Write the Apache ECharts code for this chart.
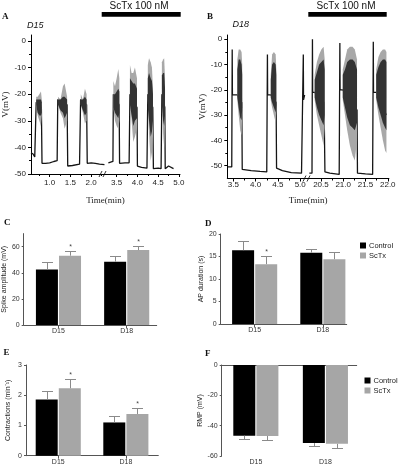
<!DOCTYPE html>
<html>
<head>
<meta charset="utf-8">
<script src="https://cdn.jsdelivr.net/npm/echarts@6/dist/echarts.min.js"></script>
<style>
html, body { margin: 0; padding: 0; background: #fff; }
#main { width: 407px; height: 466px; }
</style>
</head>
<body>
<div id="main"></div>
<script>
// ---------- A: D15 recording (time in min, V in mV) ----------
var traceA1 = [
	[0.55, -42], [0.60, -42.5], [0.64, -43.6], [0.67, -44], [0.675, -23], [0.80, -25], [0.815, -46],
	[0.90, -46], [1.00, -45.8], [1.10, -45.3], [1.18, -45], [1.195, -22], [1.42, -24], [1.435, -47],
	[1.55, -46.8], [1.72, -46.3], [1.745, -22], [1.89, -24], [1.905, -46], [2.00, -45.8], [2.10, -46],
	[2.20, -46.3], [2.32, -46.5]
];
var traceA2 = [
	[3.30, -45.8], [3.41, -45.3], [3.42, -20], [3.56, -24], [3.57, -46], [3.70, -45.8], [3.80, -45.8],
	[3.82, -20], [3.99, -25], [4.00, -47], [4.10, -47.5], [4.23, -47.8], [4.25, -20], [4.37, -25],
	[4.385, -48], [4.50, -47.8], [4.57, -48], [4.59, -20], [4.66, -25], [4.67, -48], [4.75, -47], [4.87, -48]
];
// bursts: [t, top, bottom, coreTop, coreBottom]
var burstsA = [
	[[0.675, -21, -24, -22, -24], [0.71, -21, -28, -22, -27], [0.75, -20, -30, -22, -28], [0.79, -19, -32, -22, -28], [0.81, -22, -28, -23, -27]],
	[[1.20, -21, -24, -22, -24], [1.26, -22, -27, -22, -26], [1.32, -17, -29, -21, -27], [1.36, -16, -33, -21, -29], [1.42, -21, -30, -22, -27]],
	[[1.75, -20, -24, -22, -24], [1.80, -22, -27, -22, -26], [1.85, -18, -31, -21, -28], [1.89, -20, -30, -22, -27]],
	[[3.42, -15, -25, -20, -25], [3.46, -17, -30, -20, -27], [3.50, -14, -32, -19, -28], [3.54, -10.5, -33, -18, -29], [3.565, -14, -30, -19, -27]],
	[[3.82, -9, -22, -14, -24], [3.86, -12, -30, -15, -28], [3.90, -12, -38, -16, -32], [3.94, -10, -36, -16, -30], [3.99, -14, -33, -18, -29]],
	[[4.25, -9, -22, -14, -25], [4.28, -6.5, -35, -12, -30], [4.32, -8, -45, -14, -36], [4.35, -10, -42, -15, -34], [4.375, -18, -36, -20, -30]],
	[[4.59, -8, -20, -13, -24], [4.62, -7, -35, -12, -30], [4.645, -6.5, -40, -12, -32], [4.665, -14, -30, -18, -28]]
];
var ticksA = [1.0, 1.5, 2.0, 3.5, 4.0, 4.5, 5.0];
var minorTicksA = [0.75, 1.25, 1.75, 2.25, 3.75, 4.25, 4.75];

// ---------- B: D18 recording ----------
var traceB1 = [
	[3.38, -50.5], [3.465, -50.5], [3.475, -4], [3.48, -22], [3.59, -22], [3.69, -25], [3.70, -51.5],
	[3.90, -52], [4.10, -52.3], [4.25, -52.5], [4.265, -6], [4.27, -22], [4.34, -22], [4.46, -25],
	[4.47, -51], [4.60, -52], [4.80, -52.8], [5.03, -53], [5.06, -53], [5.07, -6], [5.075, -24], [5.10, -22]
];
var traceB2 = [
	[20.24, -53], [20.30, -53], [20.31, 0], [20.315, -21], [20.36, -21], [20.57, -25], [20.59, -52.5],
	[20.70, -53], [20.91, -53.5], [20.925, -1.5], [20.93, -20], [20.99, -20], [21.31, -28], [21.32, -53],
	[21.50, -53.3], [21.66, -53.5], [21.675, -1], [21.68, -21], [21.74, -21], [21.97, -30]
];
var burstsB = [
	[[3.59, -8, -24, -12, -23], [3.62, -4, -30, -8, -27], [3.655, -4, -36, -8, -31], [3.685, -5, -38, -10, -32], [3.70, -10, -30, -14, -27]],
	[[4.34, -14, -24, -16, -23], [4.37, -6, -27, -10, -25], [4.41, -5, -30, -9, -27], [4.45, -6, -33, -10, -29], [4.465, -12, -28, -14, -26]],
	[[20.36, -14, -24, -16, -23], [20.41, -9, -30, -13, -27], [20.46, -6, -34, -10, -30], [20.51, -4, -38, -9, -32], [20.56, -3, -42, -8, -34], [20.585, -8, -35, -12, -30]],
	[[20.99, -12, -24, -14, -23], [21.04, -8, -30, -12, -27], [21.09, -4, -36, -9, -31], [21.15, -3, -42, -8, -34], [21.21, -3, -46, -8, -35], [21.26, -4, -48, -9, -36], [21.31, -8, -40, -12, -33]],
	[[21.74, -12, -24, -14, -23], [21.79, -7, -30, -11, -27], [21.84, -5, -35, -9, -30], [21.89, -4, -40, -8, -33], [21.94, -4, -44, -8, -35], [21.97, -5, -45, -9, -36]]
];
var ticksB = [3.5, 4.0, 4.5, 5.0, 20.5, 21.0, 21.5, 22.0];
var minorTicksB = [3.75, 4.25, 4.75, 20.75, 21.25, 21.75];
var vTicks = [-50, -40, -30, -20, -10, 0];
var vMinorTicks = [-45, -35, -25, -15, -5];

// ---------- C-F: group means (Control / ScTx) and ends of error bars ----------
var groups = ['D15', 'D18'];
var spikeCtrl = [42.6, 48.5], spikeCtrlErr = [48.0, 53.1];
var spikeScTx = [53.1, 57.4], spikeScTxErr = [56.9, 60.5], spikeStar = [1, 1];
var apCtrl = [16.4, 15.85], apCtrlErr = [18.5, 16.7];
var apScTx = [13.3, 14.4], apScTxErr = [15.2, 15.9], apStar = [1, 0];
var conCtrl = [1.86, 1.10], conCtrlErr = [2.14, 1.31];
var conScTx = [2.23, 1.38], conScTxErr = [2.53, 1.57], conStar = [1, 1];
var rmpCtrl = [-46.6, -51.5], rmpCtrlErr = [-48.7, -53.5];
var rmpScTx = [-46.8, -52.0], rmpScTxErr = [-49.4, -54.4], rmpStar = [0, 0];

// axis breaks: time after the break is shifted left
function mapA(t) { return t > 3 ? t - 0.886 : t; }
function mapB(t) { return t > 10 ? t - 15.035 : t; }

var SANS = 'Liberation Sans, Arial, sans-serif';
var SERIF = 'Liberation Serif, Times New Roman, serif';
var BAR_W = 22, OFF = 11.5;

var chart = echarts.init(document.getElementById('main'));

function traceSeries(trace, map, idx) {
	return {
		type: 'line', xAxisIndex: idx, yAxisIndex: idx, symbol: 'none', silent: true, z: 2,
		animation: false,
		lineStyle: { color: '#151515', width: 1.3 },
		data: trace.map(function (p) { return [map(p[0]), p[1]]; })
	};
}

function burstSeries(bursts, map, idx) {
	return {
		type: 'custom', xAxisIndex: idx, yAxisIndex: idx, silent: true, z: 3, animation: false,
		data: bursts.map(function (b) { return [map(b[0][0]), b[0][1]]; }),
		renderItem: function (params, api) {
			var b = bursts[params.dataIndex];
			var outer = [], core = [], k;
			for (k = 0; k < b.length; k++) outer.push(api.coord([map(b[k][0]), b[k][1]]));
			for (k = b.length - 1; k >= 0; k--) outer.push(api.coord([map(b[k][0]), b[k][2]]));
			for (k = 0; k < b.length; k++) core.push(api.coord([map(b[k][0]), b[k][3]]));
			for (k = b.length - 1; k >= 0; k--) core.push(api.coord([map(b[k][0]), b[k][4]]));
			return {
				type: 'group', children: [
					{ type: 'polygon', shape: { points: outer }, style: { fill: '#a8a8a8' } },
					{ type: 'polygon', shape: { points: core }, style: { fill: '#333' } }
				]
			};
		}
	};
}

function barSeries(name, vals, idx, color) {
	return {
		type: 'bar', name: name, xAxisIndex: idx, yAxisIndex: idx, barWidth: BAR_W, barGap: '5%',
		animation: false, silent: true,
		itemStyle: { color: color },
		data: vals.map(function (v, i) { return [i + 1, v]; })
	};
}

function errSeries(vals, errs, stars, which, idx) {
	return {
		type: 'custom', name: 'err', xAxisIndex: idx, yAxisIndex: idx, silent: true, z: 3, animation: false,
		encode: { x: 0, y: 2 },
		data: vals.map(function (v, i) { return [i + 1, v, errs[i], stars ? stars[i] : 0]; }),
		renderItem: function (params, api) {
			var p0 = api.coord([api.value(0), api.value(1)]);
			var p1 = api.coord([api.value(0), api.value(2)]);
			var cx = Math.round(p0[0] + (which ? OFF : -OFF)) + 0.5;
			var ey = Math.round(p1[1]) + 0.5;
			var kids = [
				{ type: 'line', shape: { x1: cx, y1: p0[1], x2: cx, y2: ey }, style: { stroke: '#8a8a8a', lineWidth: 1 } },
				{ type: 'line', shape: { x1: cx - 5.5, y1: ey, x2: cx + 5.5, y2: ey }, style: { stroke: '#8a8a8a', lineWidth: 1 } }
			];
			if (api.value(3)) {
				kids.push({ type: 'text', style: { text: '*', x: cx, y: ey - 0.5, align: 'center', verticalAlign: 'bottom', textAlign: 'center', textVerticalAlign: 'bottom', font: '7px ' + SANS, fill: '#444' } });
			}
			return { type: 'group', children: kids };
		}
	};
}

var lbl = { color: '#222', fontSize: 8, fontFamily: SANS };
var lblSmall = { color: '#333', fontSize: 7, fontFamily: SANS };

function traceX(idx, min, max, ticks, map, margin, gap) {
	var vals = ticks.map(map);
	return {
		type: 'value', gridIndex: idx, min: min, max: max,
		name: 'Time(min)', nameLocation: 'middle', nameGap: gap,
		nameTextStyle: { fontFamily: SERIF, fontSize: 9, color: '#222' },
		axisLine: { onZero: false, lineStyle: { color: '#000', width: 1 } },
		axisTick: { customValues: vals, length: 3, lineStyle: { color: '#000' } },
		axisLabel: Object.assign({ customValues: vals, margin: margin, formatter: function (v) {
			for (var i = 0; i < vals.length; i++) if (Math.abs(vals[i] - v) < 1e-6) return ticks[i].toFixed(1);
			return '';
		} }, lbl),
		splitLine: { show: false }
	};
}
function minorX(idx, min, max, ticks, map) {
	return {
		type: 'value', gridIndex: idx, min: min, max: max, position: 'bottom',
		axisLine: { show: false, onZero: false },
		axisTick: { customValues: ticks.map(map), length: 2, lineStyle: { color: '#000' } },
		axisLabel: { show: false }, splitLine: { show: false }
	};
}
function traceY(idx, min, max, gap) {
	return {
		type: 'value', gridIndex: idx, min: min, max: max,
		name: 'V(mV)', nameLocation: 'middle', nameGap: gap,
		nameTextStyle: { fontFamily: SERIF, fontSize: 9, color: '#222' },
		axisLine: { show: true, onZero: false, lineStyle: { color: '#000', width: 1 } },
		axisTick: { show: true, customValues: vTicks, length: 3, lineStyle: { color: '#000' } },
		axisLabel: Object.assign({ customValues: vTicks, margin: 5 }, lbl),
		splitLine: { show: false }
	};
}
function minorY(idx, min, max) {
	return {
		type: 'value', gridIndex: idx, min: min, max: max, position: 'left',
		axisLine: { show: false, onZero: false },
		axisTick: { show: true, customValues: vMinorTicks, length: 2, lineStyle: { color: '#000' } },
		axisLabel: { show: false }, splitLine: { show: false }
	};
}
function barX(idx, min, max) {
	return {
		type: 'value', gridIndex: idx, min: min, max: max, position: 'bottom',
		axisLine: { onZero: false, lineStyle: { color: '#555' } },
		axisTick: { customValues: [1, 2], length: 3, lineStyle: { color: '#555' } },
		axisLabel: Object.assign({ customValues: [1, 2], margin: 3, formatter: function (v) { return groups[Math.round(v) - 1]; } }, lblSmall),
		splitLine: { show: false }
	};
}
function barY(idx, name, gap, min, max, interval, custom) {
	var ax = {
		type: 'value', gridIndex: idx, min: min, max: max, interval: interval,
		name: name, nameLocation: 'middle', nameGap: gap,
		nameTextStyle: { fontFamily: SANS, fontSize: 7, color: '#222' },
		axisLine: { show: true, onZero: false, lineStyle: { color: '#555' } },
		axisTick: { show: true, length: 2, lineStyle: { color: '#555' } },
		axisLabel: Object.assign({ margin: 4 }, lblSmall),
		splitLine: { show: false }
	};
	if (custom) { ax.axisTick.customValues = custom; ax.axisLabel.customValues = custom; }
	return ax;
}

function txt(text, x, y, font, align) {
	return {
		type: 'text', silent: true,
		style: { text: text, x: x, y: y, font: font, fill: '#111', align: align || 'left', verticalAlign: 'middle', textAlign: align || 'left', textVerticalAlign: 'middle' }
	};
}
function breakMark(x, y) {
	return {
		type: 'group', silent: true, children: [
			{ type: 'rect', shape: { x: x - 1, y: y - 2, width: 6, height: 4 }, style: { fill: '#fff' } },
			{ type: 'line', shape: { x1: x - 1.5, y1: y + 3, x2: x + 1.5, y2: y - 3 }, style: { stroke: '#000', lineWidth: 0.8 } },
			{ type: 'line', shape: { x1: x + 2.5, y1: y + 3, x2: x + 5.5, y2: y - 3 }, style: { stroke: '#000', lineWidth: 0.8 } }
		]
	};
}

var legendStyle = { orient: 'vertical', icon: 'rect', itemWidth: 6, itemHeight: 6, itemGap: 2, padding: 0, selectedMode: false,
	textStyle: { fontSize: 7.5, fontFamily: SANS, color: '#222', padding: [0, 0, 0, -2] } };

var option = {
	backgroundColor: '#fff',
	animation: false,
	grid: [
		{ left: 22, top: 35, width: 158, height: 139 },
		{ left: 227.3, top: 35, width: 161.6, height: 143.5 },
		{ left: 22.7, top: 233.6, width: 134, height: 91.4 },
		{ left: 220.7, top: 234, width: 126, height: 90 },
		{ left: 26, top: 365, width: 132.3, height: 90.7 },
		{ left: 221.7, top: 365, width: 135, height: 92.3 }
	],
	xAxis: [
		traceX(0, 0.55, 4.14, ticksA, mapA, 5, 22),
		traceX(1, 3.365, 6.99, ticksB, mapB, 2, 18),
		barX(2, 0.49, 2.44),
		barX(3, 0.502, 2.35),
		barX(4, 0.523, 2.48),
		Object.assign(barX(5, 0.509, 2.45), { axisLine: { show: false, onZero: false }, axisTick: { show: false } }),
		minorX(0, 0.55, 4.14, minorTicksA, mapA),
		minorX(1, 3.365, 6.99, minorTicksB, mapB),
		{ type: 'value', gridIndex: 5, min: 0.509, max: 2.45, position: 'top',
			axisLine: { onZero: false, lineStyle: { color: '#555' } }, axisTick: { show: false }, axisLabel: { show: false }, splitLine: { show: false } }
	],
	yAxis: [
		traceY(0, -50, 2.25, 21),
		traceY(1, -55.1, 1.7, 19),
		barY(2, 'Spike amplitude (mV)', 13, 0, 70, 20, [0, 20, 40, 60]),
		barY(3, 'AP duration (s)', 11, 0, 20, 5),
		barY(4, 'Contractions (min\u207B\u00B9)', 14, 0, 3, 1),
		barY(5, 'RMP (mV)', 13, -60, 0, 20),
		minorY(0, -50, 2.25),
		minorY(1, -55.1, 1.7)
	],
	legend: [
		Object.assign({ data: ['Control', 'ScTx'], left: 360, top: 241.5 }, legendStyle),
		Object.assign({ data: ['Control', 'ScTx'], left: 364.5, top: 376.5 }, legendStyle)
	],
	series: [
		traceSeries(traceA1, mapA, 0),
		traceSeries(traceA2, mapA, 0),
		burstSeries(burstsA, mapA, 0),
		traceSeries(traceB1, mapB, 1),
		traceSeries(traceB2, mapB, 1),
		burstSeries(burstsB, mapB, 1),
		barSeries('Control', spikeCtrl, 2, '#000'),
		barSeries('ScTx', spikeScTx, 2, '#a6a6a6'),
		errSeries(spikeCtrl, spikeCtrlErr, null, 0, 2),
		errSeries(spikeScTx, spikeScTxErr, spikeStar, 1, 2),
		barSeries('Control', apCtrl, 3, '#000'),
		barSeries('ScTx', apScTx, 3, '#a6a6a6'),
		errSeries(apCtrl, apCtrlErr, null, 0, 3),
		errSeries(apScTx, apScTxErr, apStar, 1, 3),
		barSeries('Control', conCtrl, 4, '#000'),
		barSeries('ScTx', conScTx, 4, '#a6a6a6'),
		errSeries(conCtrl, conCtrlErr, null, 0, 4),
		errSeries(conScTx, conScTxErr, conStar, 1, 4),
		barSeries('Control', rmpCtrl, 5, '#000'),
		barSeries('ScTx', rmpScTx, 5, '#a6a6a6'),
		errSeries(rmpCtrl, rmpCtrlErr, null, 0, 5),
		errSeries(rmpScTx, rmpScTxErr, rmpStar, 1, 5)
	],
	graphic: [
		txt('A', 2, 16.5, 'bold 9px ' + SERIF),
		txt('B', 207, 16.5, 'bold 9px ' + SERIF),
		txt('C', 4, 223, 'bold 9px ' + SERIF),
		txt('D', 205, 223.5, 'bold 9px ' + SERIF),
		txt('E', 3.5, 353, 'bold 9px ' + SERIF),
		txt('F', 205, 353.5, 'bold 9px ' + SERIF),
		txt('D15', 27, 25, 'italic 9px ' + SANS),
		txt('D18', 232.5, 24, 'italic 9px ' + SANS),
		txt('ScTx 100 nM', 139, 6.3, '10px ' + SANS, 'center'),
		txt('ScTx 100 nM', 346, 6.3, '10px ' + SANS, 'center'),
		{ type: 'rect', silent: true, shape: { x: 101.7, y: 12, width: 79, height: 4.7 }, style: { fill: '#000' } },
		{ type: 'rect', silent: true, shape: { x: 308.3, y: 12, width: 78.4, height: 4.7 }, style: { fill: '#000' } },
		breakMark(100.5, 174),
		breakMark(304.5, 178.5)
	]
};
chart.setOption(option);
</script>
</body>
</html>
